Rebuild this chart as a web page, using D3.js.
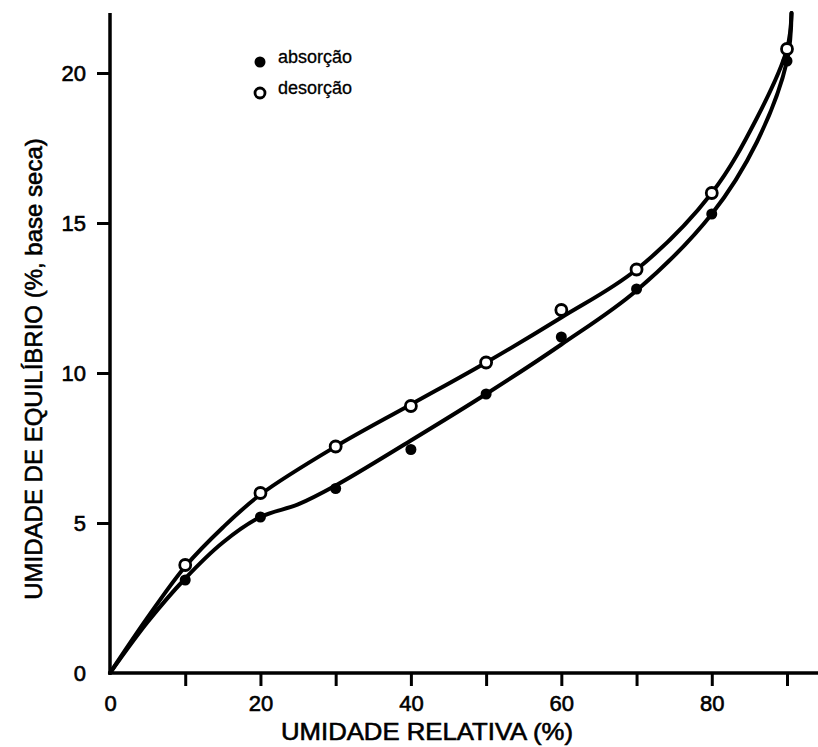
<!DOCTYPE html>
<html>
<head>
<meta charset="utf-8">
<script src="https://cdn.jsdelivr.net/npm/d3@7"></script>
<style>
  html, body { margin: 0; padding: 0; background: #fff; }
  svg { display: block; }
  text { font-family: "Liberation Sans", Arial, sans-serif; fill: #000; }
</style>
</head>
<body>
<script>
// Umidade relativa (%) dos ensaios
const umidadeRelativa = [10, 20, 30, 40, 50, 60, 70, 80, 90];
// Umidade de equilíbrio (%, base seca) medida
const absorcao = [3.1, 5.2, 6.15, 7.45, 9.3, 11.2, 12.8, 15.3, 20.4];
const desorcao = [3.6, 6.0, 7.55, 8.9, 10.35, 12.1, 13.45, 16.0, 20.8];

// Curvas ajustadas (pontos de controle)
const curvaAbsX = [0, 5, 10, 15, 20, 25, 30, 40, 50, 60, 70, 80, 86, 90, 90.6];
const curvaAbsY = [0, 1.7, 3.15, 4.35, 5.2, 5.62, 6.25, 7.75, 9.3, 10.95, 12.75, 15.3, 17.7, 20.4, 22.0];
const curvaDesX = [0, 5, 10, 15, 20, 30, 40, 50, 60, 70, 80, 86, 90, 90.6];
const curvaDesY = [0, 1.85, 3.55, 4.85, 5.95, 7.55, 8.95, 10.35, 11.85, 13.45, 16.0, 18.5, 20.8, 22.0];

const xTicks = [0, 10, 20, 30, 40, 50, 60, 70, 80, 90];
const xTickLabels = ["0", "", "20", "", "40", "", "60", "", "80", ""];
const yTicks = [0, 5, 10, 15, 20];
const yTickLabels = ["0", "5", "10", "15", "20"];

const legenda = [
  { nome: "absorção", cheio: true },
  { nome: "desorção", cheio: false }
];

const W = 818, H = 747;
const svg = d3.select("body").append("svg").attr("width", W).attr("height", H);

const x = d3.scaleLinear().domain([0, 90]).range([110, 787]);
const y = d3.scaleLinear().domain([0, 20]).range([673, 73]);

// Eixo X
const xAxis = d3.axisBottom(x)
  .tickValues(xTicks)
  .tickSize(13)
  .tickPadding(9)
  .tickFormat((d, i) => xTickLabels[i]);
const gx = svg.append("g").attr("transform", `translate(0,${y(0)})`).call(xAxis);
gx.select(".domain").remove();
gx.selectAll(".tick line").attr("stroke", "#000").attr("stroke-width", 3)
  .attr("display", d => d === 0 ? "none" : null);
gx.selectAll(".tick text").attr("font-size", 22).attr("stroke", "#000").attr("stroke-width", 0.6);
svg.append("line")
  .attr("x1", x(0) - 1.5).attr("x2", W).attr("y1", y(0)).attr("y2", y(0))
  .attr("stroke", "#000").attr("stroke-width", 3.5);

// Eixo Y
const yAxis = d3.axisLeft(y)
  .tickValues(yTicks)
  .tickSize(13)
  .tickPadding(11)
  .tickFormat((d, i) => yTickLabels[i]);
const gy = svg.append("g").attr("transform", `translate(${x(0)},0)`).call(yAxis);
gy.select(".domain").remove();
gy.selectAll(".tick line").attr("stroke", "#000").attr("stroke-width", 3)
  .attr("display", d => d === 0 ? "none" : null);
gy.selectAll(".tick text").attr("font-size", 22).attr("stroke", "#000").attr("stroke-width", 0.6);
svg.append("line")
  .attr("x1", x(0)).attr("x2", x(0)).attr("y1", y(0) + 1.5).attr("y2", y(22))
  .attr("stroke", "#000").attr("stroke-width", 3.5);

// Títulos dos eixos
svg.append("text")
  .attr("x", 427).attr("y", 740)
  .attr("text-anchor", "middle")
  .attr("font-size", 24)
  .attr("textLength", 292)
  .attr("lengthAdjust", "spacingAndGlyphs")
  .attr("stroke", "#000").attr("stroke-width", 0.6)
  .text("UMIDADE RELATIVA (%)");

svg.append("text")
  .attr("transform", `translate(42,${369}) rotate(-90)`)
  .attr("text-anchor", "middle")
  .attr("font-size", 24)
  .attr("stroke", "#000").attr("stroke-width", 0.6)
  .text("UMIDADE DE EQUILÍBRIO (%, base seca)");

// Curvas
const linha = d3.line()
  .x(d => x(d[0]))
  .y(d => y(d[1]))
  .curve(d3.curveCatmullRom.alpha(0.5));

const curvaAbs = curvaAbsX.map((v, i) => [v, curvaAbsY[i]]);
const curvaDes = curvaDesX.map((v, i) => [v, curvaDesY[i]]);

[curvaAbs, curvaDes].forEach(c => {
  svg.append("path")
    .datum(c)
    .attr("d", linha)
    .attr("fill", "none")
    .attr("stroke", "#000")
    .attr("stroke-width", 4)
    .attr("stroke-linejoin", "round")
    .attr("stroke-linecap", "round");
});

// Pontos experimentais
svg.append("g").selectAll("circle")
  .data(umidadeRelativa.map((v, i) => [v, absorcao[i]]))
  .join("circle")
  .attr("cx", d => x(d[0])).attr("cy", d => y(d[1]))
  .attr("r", 5.5)
  .attr("fill", "#000");

svg.append("g").selectAll("circle")
  .data(umidadeRelativa.map((v, i) => [v, desorcao[i]]))
  .join("circle")
  .attr("cx", d => x(d[0])).attr("cy", d => y(d[1]))
  .attr("r", 5.5)
  .attr("fill", "#fff")
  .attr("stroke", "#000")
  .attr("stroke-width", 2.8);

// Legenda
const leg = svg.append("g");
legenda.forEach((l, i) => {
  const cy = 62 + i * 31;
  leg.append("circle")
    .attr("cx", 260).attr("cy", cy)
    .attr("r", l.cheio ? 5.5 : 5)
    .attr("fill", l.cheio ? "#000" : "#fff")
    .attr("stroke", "#000")
    .attr("stroke-width", l.cheio ? 0 : 2.8);
  leg.append("text")
    .attr("x", 278).attr("y", cy + 1)
    .attr("font-size", 18)
    .attr("font-family", "'Open Sans', 'Liberation Sans', sans-serif")
    .attr("stroke", "#000").attr("stroke-width", 0.3)
    .text(l.nome);
});
</script>
</body>
</html>
